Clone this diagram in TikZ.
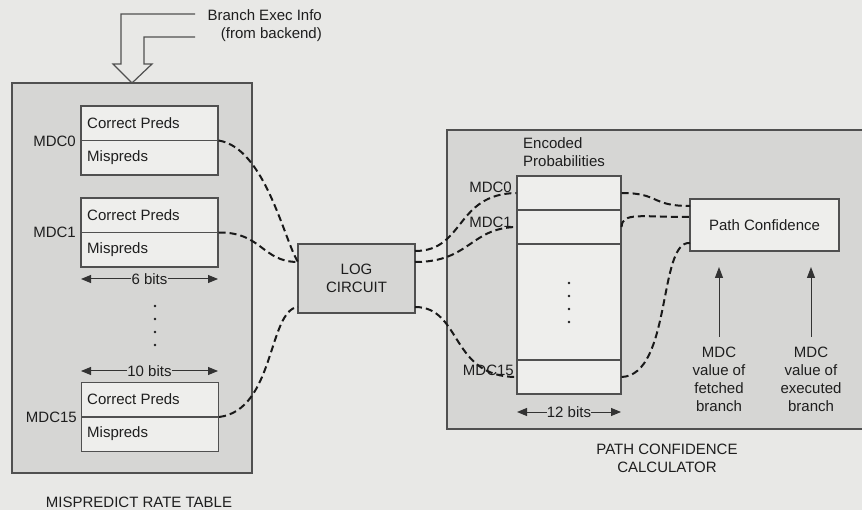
\documentclass[tikz,border=0pt]{standalone}
\usepackage{fontspec}
\setmainfont{Liberation Sans}
\usetikzlibrary{arrows.meta,calc}
\definecolor{bgc}{RGB}{232,232,230}
\definecolor{panelc}{RGB}{214,214,212}
\definecolor{cell}{RGB}{238,238,236}
\definecolor{ln}{RGB}{80,80,80}
\definecolor{tx}{RGB}{30,30,30}
\tikzset{
  panel/.style={draw=ln,line width=1.2pt,fill=panelc},
  rec/.style={draw=ln,line width=1.2pt,fill=cell,minimum width=137pt,minimum height=69pt,inner sep=0pt},
  row/.style={draw=ln,line width=1.2pt,fill=cell,minimum width=104pt,minimum height=34pt,inner sep=0pt},
  lbl/.style={inner sep=0pt,text=tx},
  wire/.style={draw=black!90,line width=2pt,dash pattern=on 7pt off 4pt},
  dimarrow/.style={draw=black!80,line width=1pt,-{Triangle[length=10pt,width=8pt]}},
  uparrow/.style={draw=black!80,line width=1pt,-{Triangle[length=11pt,width=8pt]}},
}
\begin{document}
\begin{tikzpicture}[x=1pt,y=-1pt,font=\fontsize{15}{18}\selectfont]
\useasboundingbox (0,0) rectangle (862,510);
\fill[bgc] (0,0) rectangle (862,510);

% ---------- Mispredict rate table ----------
\node[panel,minimum width=240pt,minimum height=390pt,inner sep=0pt] (mrt) at (132,278) {};
% Branch exec info hollow arrow
\filldraw[fill=bgc,draw=ln,line width=1.2pt] (195,14) -- (121,14) -- (121,64) -- (113,64) -- (132,83) -- (152,64) -- (144,64) -- (144,37) -- (195,37);
\node[lbl,anchor=east,align=right] (bei) at (322,26) {Branch Exec Info\\(from backend)};

\node[rec] (r0) at (149.5,140.5) {};
\draw[ln,line width=1.2pt] (r0.west) -- (r0.east);
\node[lbl,anchor=west] at (87,123.5) {Correct Preds};
\node[lbl,anchor=west] at (87,158) {Mispreds};
\node[lbl,anchor=east] (l0) at (76,141) {MDC0};

\node[rec] (r1) at (149.5,232.5) {};
\draw[ln,line width=1.2pt] (r1.west) -- (r1.east);
\node[lbl,anchor=west] at (87,215) {Correct Preds};
\node[lbl,anchor=west] at (87,250) {Mispreds};
\node[lbl,anchor=east] (l1) at (76,232) {MDC1};

\node[lbl] (b6) at (149.5,279) {6 bits};
\coordinate (b6l) at (81,279);
\coordinate (b6r) at (218,279);
\draw[dimarrow] (b6.west) -- (b6l);
\draw[dimarrow] (b6.east) -- (b6r);

\foreach \y in {306,319,332,345} \fill[tx] (155,\y) circle (1.3pt);

\node[lbl] (b10) at (149.5,371) {10 bits};
\coordinate (b10l) at (81,371);
\coordinate (b10r) at (218,371);
\draw[dimarrow] (b10.west) -- (b10l);
\draw[dimarrow] (b10.east) -- (b10r);

\node[rec] (r15) at (150,417) {};
\draw[ln,line width=1.2pt] (r15.west) -- (r15.east);
\node[lbl,anchor=west] at (87,399.5) {Correct Preds};
\node[lbl,anchor=west] at (87,434) {Mispreds};
\node[lbl,anchor=east] (l15) at (77,417) {MDC15};

\node[lbl] (mrtl) at (139,502) {MISPREDICT RATE TABLE};

% ---------- Log circuit ----------
\node[panel,minimum width=117pt,minimum height=69pt,inner sep=0pt,align=center,text=tx] (log) at (356.5,278.5) {LOG\\CIRCUIT};
\coordinate (logw1) at (298,262);
\coordinate (logw2) at (298,307);
\coordinate (loge0) at (415,251);
\coordinate (loge1) at (415,262);
\coordinate (loge2) at (415,307);

% ---------- Path confidence calculator ----------
\fill[panelc] (447,130) rectangle (862,429);
\draw[ln,line width=1.2pt] (862,130) -- (447,130) -- (447,429) -- (862,429);

\node[lbl,anchor=west,align=left] (encl) at (523,152.5) {Encoded\\Probabilities};
\node[draw=ln,line width=1.2pt,fill=cell,minimum width=104pt,minimum height=218pt,inner sep=0pt] (enc) at (569,285) {};
\node[row] (e0) at (569,193) {};
\node[row] (e1) at (569,227) {};
\node[row] (e15) at (569,377) {};
\node[lbl,anchor=east] (el0) at (512,187) {MDC0};
\node[lbl,anchor=east] (el1) at (512,222) {MDC1};
\node[lbl,anchor=east] (el15) at (514,370) {MDC15};
\foreach \y in {283,296,309,322} \fill[tx] (569,\y) circle (1.3pt);

\node[lbl] (b12) at (569,412) {12 bits};
\coordinate (b12l) at (517,412);
\coordinate (b12r) at (621,412);
\draw[dimarrow] (b12.west) -- (b12l);
\draw[dimarrow] (b12.east) -- (b12r);

\node[draw=ln,line width=1.2pt,fill=cell,minimum width=149pt,minimum height=52pt,inner sep=0pt,text=tx] (pc) at (764.5,225) {Path Confidence};
\coordinate (pcw0) at (690,206);
\coordinate (pcw1) at (690,217);
\coordinate (pcw2) at (690,243);

\node[lbl,align=center] (fetch) at (719,379) {MDC\\value of\\fetched\\branch};
\node[lbl,align=center] (exec) at (811,379) {MDC\\value of\\executed\\branch};
\draw[uparrow] (719,337) -- (719,267);
\draw[uparrow] (811,337) -- (811,267);

\node[lbl,align=center] (pccl) at (667,458) {PATH CONFIDENCE\\CALCULATOR};

% ---------- dashed connectors ----------
\draw[wire] (r0.east) .. controls (265,148) and (284,240) .. (logw1);
\draw[wire] (r1.east) .. controls (262,232) and (262,262) .. (logw1);
\draw[wire] (r15.east) .. controls (275,410) and (268,310) .. (logw2);

\draw[wire] (loge0) .. controls (465,251) and (455,194) .. (e0.west);
\draw[wire] (loge1) .. controls (470,262) and (470,228) .. (e1.west);
\draw[wire] (loge2) .. controls (462,307) and (450,377) .. (e15.west);

\draw[wire] (e0.east) .. controls (660,193) and (650,206) .. (pcw0);
\draw[wire] (e1.east) .. controls (622,212) and (640,217) .. (pcw1);
\draw[wire] (e15.east) .. controls (672,375) and (658,240) .. (pcw2);
\end{tikzpicture}
\end{document}
